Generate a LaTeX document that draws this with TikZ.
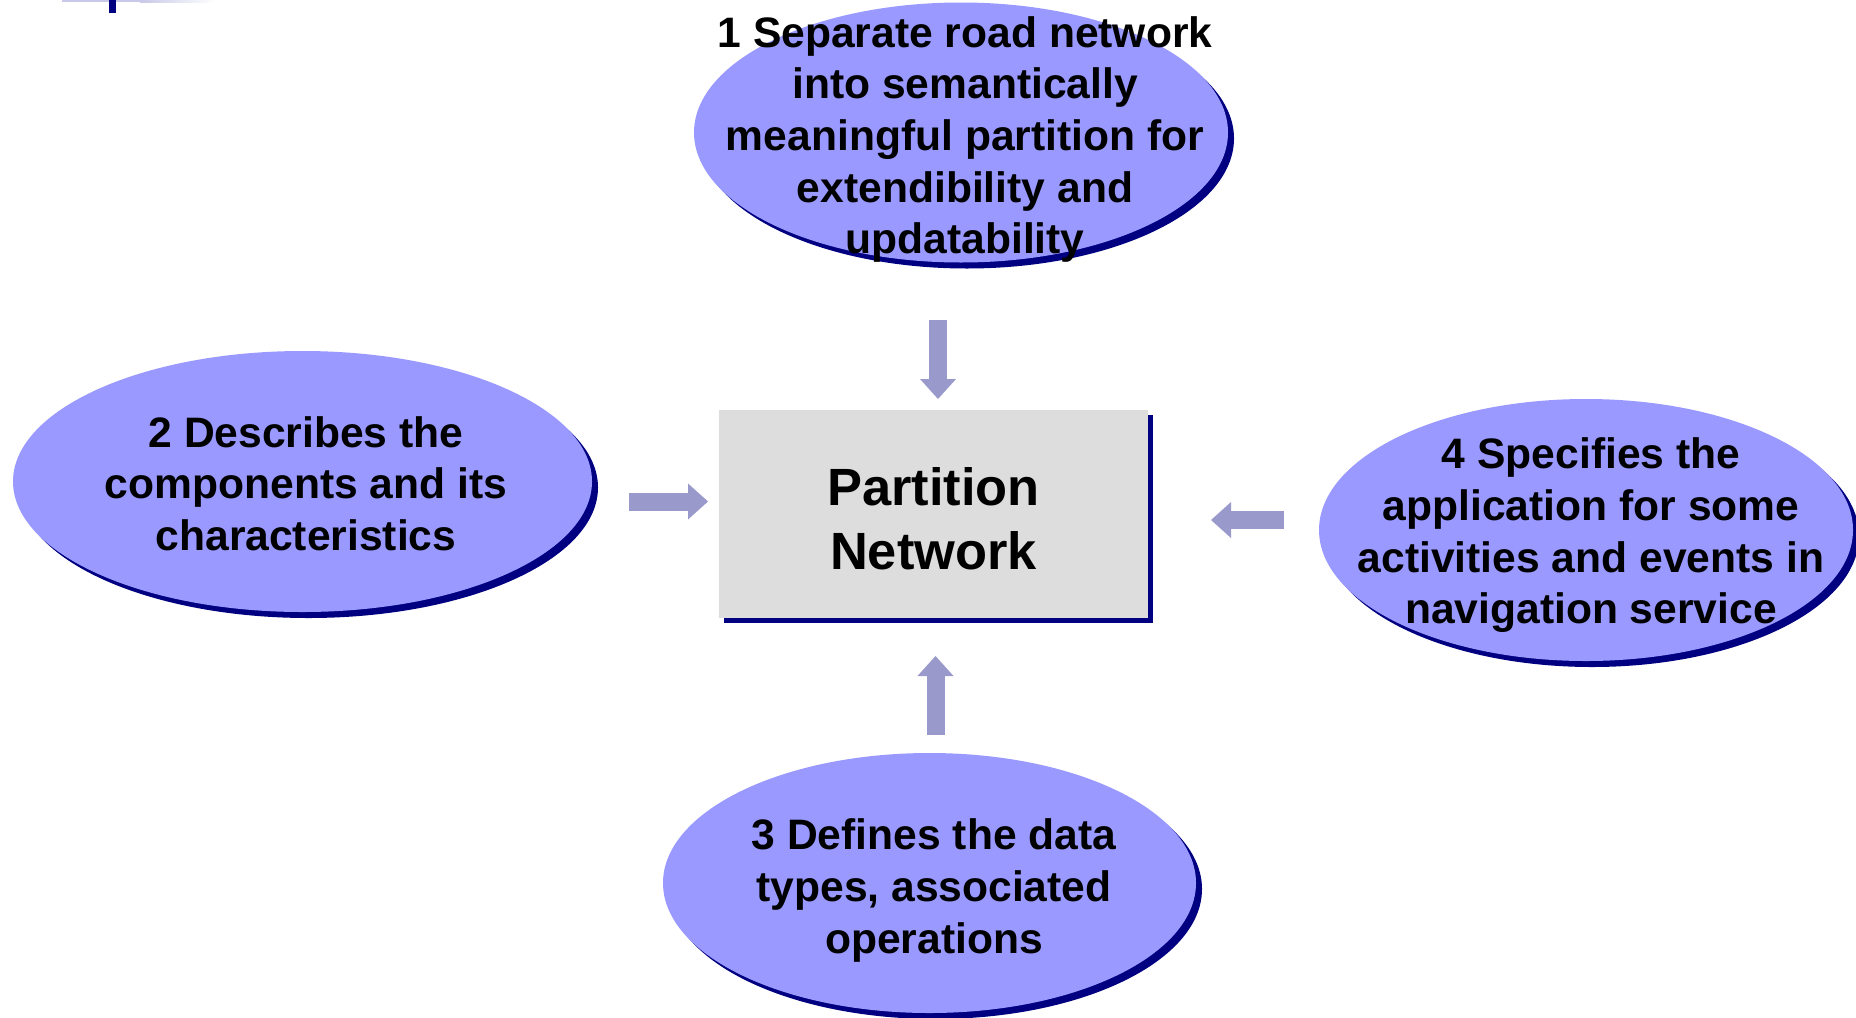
\documentclass[tikz,border=0pt]{standalone}
\usepackage{fontspec}
\setmainfont{Liberation Sans}
\usetikzlibrary{arrows.meta,shapes.geometric,shadows}
\definecolor{ellfill}{RGB}{153,153,255}
\definecolor{shadownavy}{RGB}{0,0,128}
\definecolor{boxfill}{RGB}{221,221,221}
\definecolor{arrowcol}{RGB}{153,153,204}
\definecolor{bandcol}{RGB}{200,200,232}
\tikzset{
  bubble/.style={ellipse, fill=ellfill, inner sep=0pt, minimum height=130pt,
    drop shadow={opacity=1, fill=shadownavy, shadow xshift=3pt, shadow yshift=-3pt}},
  bubbletext/.style={align=center, inner sep=0pt,
    font=\fontsize{21.3pt}{25.85pt}\selectfont\bfseries},
  centerbox/.style={rectangle, fill=boxfill, minimum width=214.5pt, minimum height=104pt,
    inner sep=0pt,
    drop shadow={opacity=1, fill=shadownavy, shadow xshift=2.5pt, shadow yshift=-2.5pt}},
  boxtext/.style={align=center, inner sep=0pt,
    font=\fontsize{26.2pt}{32.2pt}\selectfont\bfseries},
  flow/.style={draw=arrowcol, line width=9pt,
    -{Triangle[length=10pt,width=18pt,line width=0pt]}}
}
\begin{document}
\begin{tikzpicture}[x=0.5pt,y=-0.5pt]
\useasboundingbox (0,0) rectangle (1856,1017);
% top-left decoration
\fill[bandcol] (62,0) rectangle (140,2);
\shade[left color=bandcol, right color=white] (140,0) rectangle (215,2);
\fill[shadownavy] (109,0) rectangle (116,13);

% bubbles
\node[bubble, minimum width=267pt] (e1) at (961,132.5) {};
\node[bubbletext] (t1) at (965,139.5) {1 Separate road network\\into semantically\\meaningful partition for\\extendibility and\\updatability};

\node[bubble, minimum width=289.5pt, minimum height=130.5pt] (e2) at (302.5,481.5) {};
\node[bubbletext] (t2) at (306,483.5) {2 Describes the\\components and its\\characteristics};

\node[bubble, minimum width=266.5pt] (e3) at (929.5,883) {};
\node[bubbletext] (t3) at (934,890.5) {3 Defines the data\\types, associated\\operations};

\node[bubble, minimum width=267pt, minimum height=131pt] (e4) at (1586,530) {};
\node[bubbletext] (t4) at (1591,535.5) {4 Specifies the\\application for some\\activities and events in\\navigation service};

% centre box
\node[centerbox] (pn) at (933.5,514) {};
\node[boxtext] (pnt) at (933.5,519) {Partition\\Network};

% arrows
\coordinate (a1s) at (938,320);   \coordinate (a1e) at (938,399);
\coordinate (a2s) at (629,501.5); \coordinate (a2e) at (708,501.5);
\coordinate (a3s) at (935.5,735); \coordinate (a3e) at (935.5,656);
\coordinate (a4s) at (1284,520);  \coordinate (a4e) at (1211,520);
\draw[flow] (a1s) -- (a1e);
\draw[flow] (a2s) -- (a2e);
\draw[flow] (a3s) -- (a3e);
\draw[flow] (a4s) -- (a4e);
\end{tikzpicture}
\end{document}
